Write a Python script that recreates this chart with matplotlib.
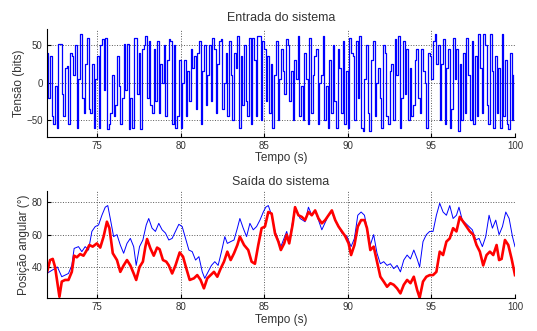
import matplotlib.pyplot as plt
import numpy as np

plt.rcParams['font.family'] = ['Liberation Sans', 'DejaVu Sans']

# entrada: degraus de 0.1 s a partir de 72 s
entrada = [
    40, -20, 35, -45, -55, -5, -60, 52, 52, -15,
    -45, 20, 22, -55, 40, 35, 10, 50, -60, 5,
    65, -20, -40, 25, 60, -35, -40, 25, -60, 5,
    35, -60, 50, 58, -10, 60, -62, -55, -40, 10,
    -45, -30, 35, -5, -55, -20, 52, -10, 52, -62,
    -20, -60, 60, 60, -15, 40, -62, 45, 50, 62,
    -20, 55, -30, -40, 45, -25, 55, -40, 25, 0,
    50, -45, 30, 58, 55, -55, 50, -60, -45, 30,
    -60, 0, 30, -45, 15, -25, 45, 20, 35, -35,
    40, 55, -55, 15, 50, -30, 10, 50, -25, 60,
    45, -40, 25, 55, 58, -35, 0, 40, -45, 55,
    10, -50, 40, 20, 62, -60, 35, -30, 50, -25,
    -45, 60, -55, 60, 30, -45, 62, 62, -50, 55,
    45, -25, 35, -40, 25, -60, 10, 55, -50, 5,
    45, 15, -15, 58, 50, -25, 15, -50, 30, 5,
    62, -45, -5, -50, 40, 5, -55, 60, -40, 10,
    35, 45, -55, 0, 10, 62, -50, -5, -60, 30,
    -40, 50, -25, -60, 45, 20, -40, 55, -55, 15,
    -60, 60, 40, 35, -50, 55, -20, 62, -60, -65,
    5, 50, -40, -65, 30, 55, -45, 0, 20, -20,
    -60, 50, 40, -45, -55, 15, 25, -50, 58, 10,
    62, -60, -20, 55, -15, 45, -50, 20, -45, -30,
    30, 45, -20, -40, 45, 15, 0, -60, 40, 35,
    5, 55, 65, 25, 50, -50, 25, 58, -55, 20,
    45, -60, -35, 60, 5, 45, -65, 25, -50, 40,
    -40, 60, 10, -50, 55, -55, 35, -45, 65, 20,
    -40, 65, 50, -30, -55, 65, 15, -60, 35, -40,
    20, -60, 65, -45, 30, -55, -62, 40, -50, 10,
]
t_entrada = 72 + 0.1 * np.arange(len(entrada))

# saida medida (vermelho)
t_real = [72.0, 72.2, 72.36, 72.5, 72.64, 72.76, 72.9, 73.1, 73.3, 73.5,
          73.64, 73.8, 74.0, 74.2, 74.4, 74.55, 74.75, 75.0, 75.2, 75.4,
          75.6, 75.75, 75.95, 76.2, 76.4, 76.6, 76.8, 77.0, 77.2, 77.35,
          77.55, 77.75, 77.9, 78.0, 78.2, 78.4, 78.6, 78.75, 78.95, 79.15,
          79.3, 79.5, 79.7, 79.95, 80.15, 80.35, 80.55, 80.8, 81.0, 81.2,
          81.4, 81.6, 81.8, 82.0, 82.2, 82.4, 82.6, 82.8, 83.0, 83.2,
          83.4, 83.55, 83.8, 84.05, 84.25, 84.45, 84.65, 84.85, 85.05, 85.25,
          85.45, 85.65, 85.85, 86.0, 86.2, 86.35, 86.5, 86.7, 86.85, 87.05,
          87.25, 87.45, 87.65, 87.85, 88.05, 88.25, 88.45, 88.65, 88.85, 89.05,
          89.25, 89.45, 89.65, 89.85, 90.05, 90.2, 90.4, 90.6, 90.8, 91.0,
          91.15, 91.35, 91.55, 91.75, 91.95, 92.15, 92.35, 92.55, 92.75, 92.95,
          93.15, 93.35, 93.55, 93.75, 93.95, 94.15, 94.3, 94.5, 94.7, 94.9,
          95.1, 95.3, 95.5, 95.7, 95.9, 96.1, 96.3, 96.5, 96.7, 96.9,
          97.1, 97.3, 97.5, 97.7, 97.9, 98.1, 98.3, 98.5, 98.7, 98.9,
          99.05, 99.2, 99.4, 99.6, 99.8, 100.0]
saida_real = [36, 44.3, 45, 40, 30, 21.6, 31, 32, 32, 37,
              47, 46, 48, 47, 50.5, 53.6, 52.6, 54.6, 52, 58.8,
              68, 64, 48.5, 44.3, 37, 41, 44.3, 41, 36, 32,
              40, 43.3, 52.6, 57.3, 51.5, 47, 52, 51, 44.3, 43.3,
              41, 36, 41, 49, 46.4, 39, 32, 33, 35, 32,
              26.8, 33, 35, 37, 34, 39, 43.3, 49.5, 44.3, 48.5,
              53.6, 58.8, 53.6, 50.5, 43.3, 42, 53.6, 64, 65, 74,
              73, 60.8, 55.7, 50.5, 54.6, 60, 54.6, 66, 77, 72,
              71, 69, 74, 72, 75, 70, 67, 69, 72, 75,
              69, 65, 62, 59, 54.6, 47.4, 53.6, 65, 69, 69,
              64, 50.5, 52.6, 43.3, 34, 31, 27.8, 30, 29, 26.8,
              23.7, 29, 32, 30, 34, 25.8, 21, 31, 34, 35,
              35, 37, 49.5, 47.4, 55.7, 57.7, 64, 62, 71, 68,
              65, 62, 60, 53.6, 49.5, 41, 47.4, 49.5, 47.4, 53.6,
              44.3, 45, 56.7, 53.6, 45, 35]

# saida do modelo (azul)
t_modelo = [72.0, 72.64, 72.9, 73.3, 73.5, 73.64, 73.9, 74.1, 74.3, 74.5,
            74.7, 74.9, 75.1, 75.3, 75.5, 75.65, 75.8, 76.0, 76.2, 76.4,
            76.6, 76.8, 77.0, 77.2, 77.35, 77.55, 77.75, 77.95, 78.1, 78.3,
            78.5, 78.7, 78.9, 79.1, 79.3, 79.5, 79.7, 79.9, 80.1, 80.3,
            80.5, 80.7, 80.9, 81.1, 81.3, 81.45, 81.65, 81.85, 82.05, 82.25,
            82.45, 82.65, 82.8, 83.0, 83.2, 83.4, 83.55, 83.75, 83.95, 84.15,
            84.35, 84.55, 84.75, 84.95, 85.1, 85.25, 85.45, 85.65, 86.0, 86.35,
            86.5, 86.85, 87.15, 87.45, 87.65, 87.85, 88.05, 88.25, 88.45, 88.85,
            89.05, 89.25, 89.65, 89.95, 90.2, 90.4, 90.6, 90.8, 91.0, 91.15,
            91.35, 91.55, 91.75, 91.95, 92.15, 92.35, 92.55, 92.75, 92.95, 93.15,
            93.35, 93.55, 93.75, 93.95, 94.15, 94.3, 94.5, 94.7, 94.9, 95.1,
            95.3, 95.5, 95.7, 95.9, 96.1, 96.3, 96.5, 96.65, 96.85, 97.05,
            97.25, 97.45, 97.65, 97.85, 98.05, 98.25, 98.45, 98.65, 98.85, 99.05,
            99.25, 99.45, 99.65, 99.85, 100.0]
saida_modelo = [36, 40, 34, 36, 41, 51.5, 52.6, 49.5, 52.6, 50.5,
                62, 65, 66, 72, 77, 78, 70, 58.8, 60, 53.6,
                48.5, 54.6, 57.7, 52.6, 41, 52.6, 56.7, 66, 70, 64,
                62, 67, 63, 61, 56.7, 57.7, 62, 66.4, 65, 57.7,
                50.5, 49.5, 44.3, 46.4, 37, 33, 37, 41, 43.3, 41,
                49.5, 58.8, 54.6, 55.7, 56.7, 64, 70, 64, 58.8, 67,
                63, 65, 69, 74, 77, 78, 72, 62, 52.6, 62,
                55.7, 77, 70, 68, 77, 72, 75, 69, 63, 72,
                74, 69, 61, 59, 52.6, 57.7, 72, 74, 72, 64,
                53.6, 60, 48.5, 42, 43.3, 41, 42, 39, 41, 37,
                44.3, 47.4, 45, 50.5, 45, 40, 55.7, 60, 62, 62,
                72, 79.4, 74, 72, 78, 70, 72, 77, 69, 67,
                65, 63, 56.7, 57.7, 52.6, 58.8, 72, 64, 69, 60,
                65, 74, 70, 58.8, 52.6]

fig = plt.figure(figsize=(5.37, 3.31), dpi=100)
ax1 = fig.add_axes([0.087, 0.587, 0.872, 0.3245])
ax2 = fig.add_axes([0.087, 0.099, 0.872, 0.324])

ax1.plot(t_entrada, entrada, color='b', lw=0.9, drawstyle='steps-post')
ax1.set_xlim(72, 100)
ax1.set_ylim(-72, 71)
ax1.set_yticks([-50, 0, 50])
ax1.set_title('Entrada do sistema', fontsize=9, pad=6, color='0.2')
ax1.set_ylabel('Tensão (bits)', fontsize=8.5, labelpad=1, color='0.2')
ax1.set_xlabel('Tempo (s)', fontsize=8.5, labelpad=1, color='0.2')

ax2.plot(t_modelo, saida_modelo, color='b', lw=0.7)
ax2.plot(t_real, saida_real, color='r', lw=1.9)
ax2.set_xlim(72, 100)
ax2.set_ylim(20.7, 87)
ax2.set_yticks([40, 60, 80])
ax2.set_title('Saída do sistema', fontsize=9, pad=4, color='0.2')
ax2.set_ylabel('Posição angular (°)', fontsize=8.5, labelpad=1, color='0.2')
ax2.set_xlabel('Tempo (s)', fontsize=8.5, labelpad=1, color='0.2')

for ax in (ax1, ax2):
    ax.set_xticks([75, 80, 85, 90, 95, 100])
    ax.spines['top'].set_visible(False)
    ax.spines['right'].set_visible(False)
    ax.tick_params(direction='in', length=3, labelsize=7, pad=3, labelcolor='0.2')
    ax.grid(True, linestyle=':', color='0.35', lw=0.7)

fig.savefig('out.png', dpi=100)
